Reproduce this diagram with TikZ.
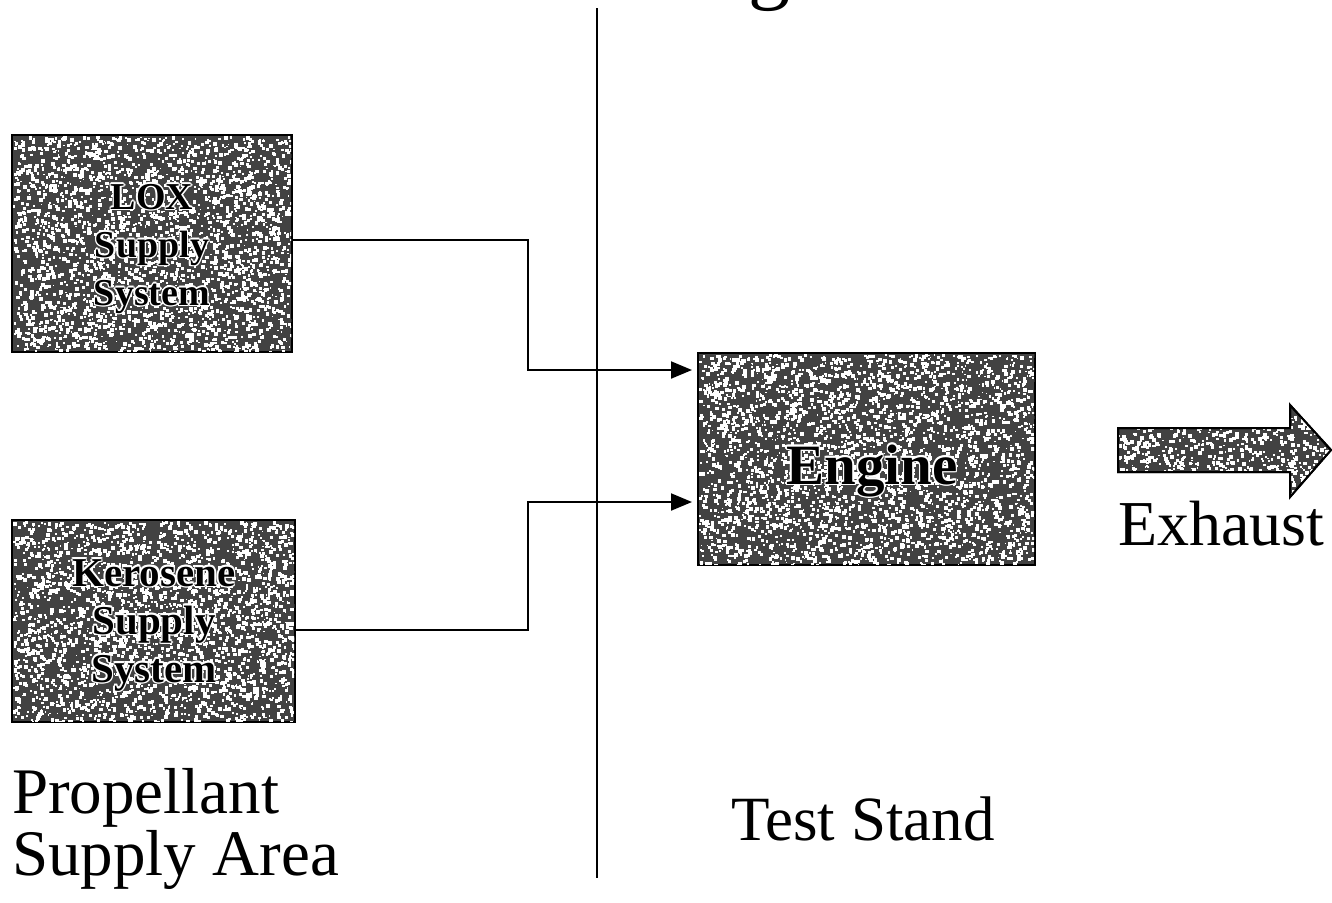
\documentclass[tikz,border=0pt]{standalone}
\usepackage{fontspec}
\setmainfont{Liberation Serif}
\usetikzlibrary{arrows.meta}

% black lettering with a thin white halo (offset white copies underneath)
\newcommand{\halocopy}[3]{\rlap{\kern#1\raisebox{#2}{\textcolor{white}{#3}}}}
\newcommand{\halo}[1]{\leavevmode
  \halocopy{1.5pt}{0pt}{#1}\halocopy{-1.5pt}{0pt}{#1}%
  \halocopy{0pt}{1.5pt}{#1}\halocopy{0pt}{-1.5pt}{#1}%
  \halocopy{1.05pt}{1.05pt}{#1}\halocopy{-1.05pt}{1.05pt}{#1}%
  \halocopy{1.05pt}{-1.05pt}{#1}\halocopy{-1.05pt}{-1.05pt}{#1}%
  \textcolor{black}{#1}}

\tikzset{
  x=1pt, y=-1pt,
  wire/.style={line width=2pt, black},
  feed/.style={wire, -{Triangle[length=21pt,width=17pt]}},
  block/.style={draw=black, line width=2pt, fill=black!74},
  blocktext/.style={align=center, inner sep=0pt, text=black},
  caption/.style={inner sep=0pt, text=black}
}

% grainy texture over a rectangle: random light specks, clipped
\newcommand{\grain}[5]{%
  \begin{scope}
    \clip (#1,#2) rectangle (#3,#4);
    \foreach \k in {1,...,#5}{%
      \pgfmathsetmacro{\gx}{#1+rnd*(#3-#1)}%
      \pgfmathsetmacro{\gy}{#2+rnd*(#4-#2)}%
      \pgfmathsetmacro{\gs}{1.4+rnd*2.6}%
      \fill[white] (\gx,\gy) rectangle ++(\gs,\gs);
    }
  \end{scope}}

\begin{document}
\begin{tikzpicture}
\pgfmathsetseed{4711}
\useasboundingbox (0,0) rectangle (1332,902);

% tail of the heading, cut by the top edge
\node[caption, anchor=base, font=\fontsize{84}{84}\selectfont] (headg) at (769,-6) {g};

% divider between the two areas
\coordinate (divtop) at (597,8);
\coordinate (divbot) at (597,878);
\draw[wire] (divtop) -- (divbot);

% supply systems
\draw[block] (12,135) rectangle (292,352);
\grain{13}{136}{291}{351}{2700}
\coordinate (loxout) at (292,240);
\node[blocktext, font=\fontsize{38}{48}\selectfont\bfseries] (lox) at (152,249)
  {\halo{LOX}\\\halo{Supply}\\\halo{System}};

\draw[block] (12,520) rectangle (295,722);
\grain{13}{521}{294}{721}{2550}
\coordinate (keroout) at (295,630);
\node[blocktext, font=\fontsize{41}{48}\selectfont\bfseries] (kero) at (154,625)
  {\halo{Kerosene}\\\halo{Supply}\\\halo{System}};

% engine
\draw[block] (698,353) rectangle (1035,565);
\grain{699}{354}{1034}{564}{3100}
\coordinate (engloxin) at (692,370);
\coordinate (engkeroin) at (692,502);
\node[blocktext, font=\fontsize{57}{57}\selectfont\bfseries, anchor=base] (engine) at (872,484)
  {\halo{Engine}};

% feed lines
\draw[feed] (loxout) -| (528,370) -- (engloxin);
\draw[feed] (keroout) -| (528,502) -- (engkeroin);

% exhaust arrow
\draw[block, line join=miter] (1118,428) -- (1290,428) -- (1290,405) -- (1331,450)
  -- (1290,497) -- (1290,472) -- (1118,472) -- cycle;
\begin{scope}
  \clip (1118,428) -- (1290,428) -- (1290,405) -- (1331,450)
    -- (1290,497) -- (1290,472) -- (1118,472) -- cycle;
  \grain{1118}{405}{1331}{497}{850}
\end{scope}
\draw[line width=2pt, line join=miter] (1118,428) -- (1290,428) -- (1290,405) -- (1331,450)
  -- (1290,497) -- (1290,472) -- (1118,472) -- cycle;
\node[caption, anchor=base west, font=\fontsize{64}{64}\selectfont] (exhaust) at (1118,545) {Exhaust};

% area captions
\node[caption, anchor=base west, font=\fontsize{65}{65}\selectfont] (propa) at (12,813) {Propellant};
\node[caption, anchor=base west, font=\fontsize{65}{65}\selectfont] (propb) at (12,875) {Supply Area};
\node[caption, anchor=base, font=\fontsize{63}{63}\selectfont] (stand) at (863,840) {Test Stand};
\end{tikzpicture}
\end{document}
